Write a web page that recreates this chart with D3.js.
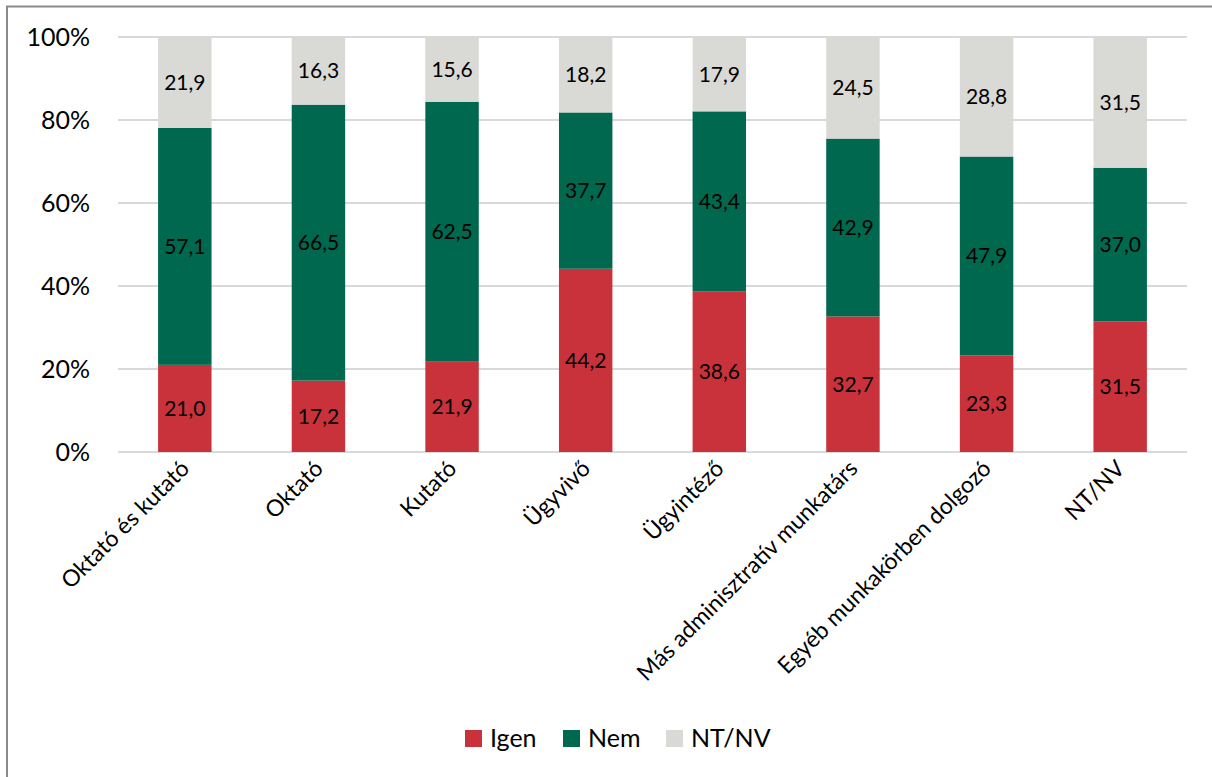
<!DOCTYPE html>
<html><head><meta charset="utf-8">
<script src="https://cdn.jsdelivr.net/npm/d3@7"></script>
<style>body{margin:0;background:#fff}svg{display:block}</style>
</head><body>
<svg id="c" width="1212" height="777"></svg>
<script>
const categories = ["Oktató és kutató","Oktató","Kutató","Ügyvivő","Ügyintéző","Más adminisztratív munkatárs","Egyéb munkakörben dolgozó","NT/NV"];
const igen = [21.0,17.2,21.9,44.2,38.6,32.7,23.3,31.5];
const nem = [57.1,66.5,62.5,37.7,43.4,42.9,47.9,37.0];
const ntnv = [21.9,16.3,15.6,18.2,17.9,24.5,28.8,31.5];
const seriesNames = ["Igen","Nem","NT/NV"];
const colors = ["#C9323B","#00684F","#D9D9D5"];
const yTicks = [0,0.2,0.4,0.6,0.8,1];

const font = "Lato, 'Open Sans', sans-serif";
const svg = d3.select("#c");
svg.append("rect").attr("x",7).attr("y",6.5).attr("width",1220).attr("height",800)
  .attr("fill","#fff").attr("stroke","#8a8a8a").attr("stroke-width",2);

const m = {l:118, r:1187, t:37, b:452};
const x = d3.scaleBand().domain(categories).range([m.l,m.r]).paddingInner(0.6).paddingOuter(0.3);
const y = d3.scaleLinear().domain([0,1]).range([m.b,m.t]);

// gridlines
svg.append("g").selectAll("line").data(yTicks).join("line")
  .attr("x1",m.l).attr("x2",m.r).attr("y1",d=>y(d)).attr("y2",d=>y(d))
  .attr("stroke","#D9D9D9").attr("stroke-width",2);

// y axis labels
const yAxis = d3.axisLeft(y).tickValues(yTicks).tickFormat(d3.format(".0%")).tickSize(0).tickPadding(0);
const ya = svg.append("g").attr("transform",`translate(90,0)`).call(yAxis);
ya.select(".domain").remove();
ya.selectAll("text").attr("font-family",font).attr("font-size",25).attr("fill","#000").attr("dy","0.35em");

// stacked data
const rows = categories.map((c,i)=>{
  const tot = igen[i]+nem[i]+ntnv[i];
  return {cat:c, Igen:igen[i]/tot, Nem:nem[i]/tot, "NT/NV":ntnv[i]/tot, raw:{Igen:igen[i],Nem:nem[i],"NT/NV":ntnv[i]}};
});
const stack = d3.stack().keys(seriesNames)(rows);

const g = svg.append("g");
stack.forEach((s,si)=>{
  g.append("g").selectAll("rect").data(s).join("rect")
    .attr("x",d=>x(d.data.cat)).attr("width",x.bandwidth())
    .attr("y",d=>y(d[1])).attr("height",d=>y(d[0])-y(d[1]))
    .attr("fill",colors[si]);
});
stack.forEach((s,si)=>{
  g.append("g").selectAll("text").data(s).join("text")
    .attr("x",d=>x(d.data.cat)+x.bandwidth()/2)
    .attr("y",d=>(y(d[0])+y(d[1]))/2)
    .attr("dy","0.35em").attr("text-anchor","middle")
    .attr("font-family",font).attr("font-size",21).attr("fill","#000")
    .text(d=>d3.format(".1f")(d.data.raw[s.key]).replace(".",","));
});

// x labels
const xa = svg.append("g");
xa.selectAll("text").data(categories).join("text")
  .attr("transform",d=>`translate(${x(d)+x.bandwidth()/2+6},${470}) rotate(-45)`)
  .attr("text-anchor","end").attr("font-family",font).attr("font-size",23).attr("fill","#000")
  .text(d=>d);

// legend
const legX = [465,563,666];
const leg = svg.append("g");
seriesNames.forEach((n,i)=>{
  leg.append("rect").attr("x",legX[i]).attr("y",730).attr("width",17).attr("height",17).attr("fill",colors[i]);
  leg.append("text").attr("x",legX[i]+25).attr("y",747).attr("font-family",font).attr("font-size",25).attr("fill","#000").text(n);
});
</script>
</body></html>
